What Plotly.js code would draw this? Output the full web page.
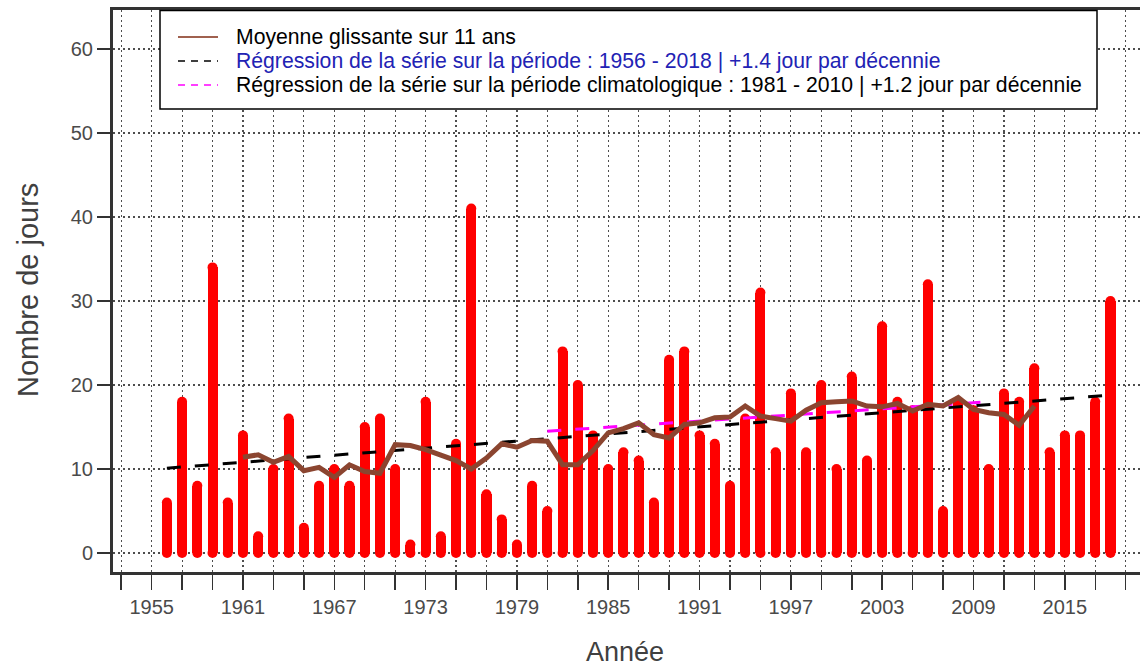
<!DOCTYPE html>
<html>
<head>
<meta charset="utf-8">
<script src="https://cdn.plot.ly/plotly-3.0.1.min.js"></script>
<style>html,body{margin:0;padding:0;background:#fff;}#chart{width:1140px;height:670px;}</style>
</head>
<body>
<div id="chart"></div>
<script>
// ---- Data ----
const years = [1956,1957,1958,1959,1960,1961,1962,1963,1964,1965,1966,1967,1968,1969,1970,
  1971,1972,1973,1974,1975,1976,1977,1978,1979,1980,1981,1982,1983,1984,1985,1986,1987,1988,
  1989,1990,1991,1992,1993,1994,1995,1996,1997,1998,1999,2000,2001,2002,2003,2004,2005,2006,
  2007,2008,2009,2010,2011,2012,2013,2014,2015,2016,2017,2018];
const days = [6,18,8,34,6,14,2,10,16,3,8,10,8,15,16,
  10,1,18,2,13,41,7,4,1,8,5,24,20,14,10,12,11,6,
  23,24,14,13,8,16,31,12,19,12,20,10,21,11,27,18,17,32,
  5,18,17,10,19,18,22,12,14,14,18,30];

const maYears = [1961,1962,1963,1964,1965,1966,1967,1968,1969,1970,1971,1972,1973,1974,1975,
  1976,1977,1978,1979,1980,1981,1982,1983,1984,1985,1986,1987,1988,1989,1990,1991,1992,1993,
  1994,1995,1996,1997,1998,1999,2000,2001,2002,2003,2004,2005,2006,2007,2008,2009,2010,2011,
  2012,2013];
const maValues = [11.4,11.7,10.8,11.5,9.8,10.2,9.0,10.5,9.7,9.5,12.9,12.8,12.3,11.6,11.0,
  10.0,11.3,13.0,12.6,13.4,13.3,10.5,10.5,12.2,14.3,14.8,15.5,14.1,13.7,15.3,15.5,16.1,16.2,
  17.5,16.3,16.0,15.7,17.0,17.9,18.0,18.1,17.5,17.4,17.8,16.9,17.7,17.5,18.5,17.1,16.7,16.5,
  15.2,17.5];

const regAllYears = [1956, 2018];
const regAllValues = [10.1, 18.8];
const regClimYears = [1981, 2010];
const regClimValues = [14.5, 18.0];

const xTickVals = [1955,1961,1967,1973,1979,1985,1991,1997,2003,2009,2015];
const xTickText = ["1955","1961","1967","1973","1979","1985","1991","1997","2003","2009","2015"];
const yTickVals = [0,10,20,30,40,50,60];

const legendLabels = [
  "Moyenne glissante sur 11 ans",
  "Régression de la série sur la période : 1956 - 2018 | +1.4 jour par décennie",
  "Régression de la série sur la période climatologique : 1981 - 2010 | +1.2 jour par décennie"
];

// ---- Styles ----
const FONT = "Liberation Sans, Arial, Helvetica, sans-serif";
const RED = "#FF0000";
const BROWN = "#8B4530";
const AXIS = "#333333";
const GRID = "#4d4d4d";

// plot area geometry in pixels
const W = 1140, H = 670;
const L = 113, R = 0, T = 10, B = 98;
const PW = W - L - R, PH = H - T - B;
const px2x = p => (p - L) / PW;
const px2y = p => (H - B - p) / PH;

const traces = [
  { type: "bar", x: years, y: days, width: 0.66,
    marker: { color: RED, line: { width: 0 } }, hoverinfo: "x+y", showlegend: false },
  // round caps at both ends of each bar (like R's round line ends)
  { type: "scatter", mode: "markers", x: years, y: days,
    marker: { color: RED, size: 10, line: { width: 0 } }, hoverinfo: "skip", showlegend: false },
  { type: "scatter", mode: "markers", x: years, y: days.map(() => 0),
    marker: { color: RED, size: 10, line: { width: 0 } }, hoverinfo: "skip", showlegend: false },
  { type: "scatter", mode: "lines", x: regAllYears, y: regAllValues,
    line: { color: "#000000", width: 3, dash: "14px,14px" }, showlegend: false },
  { type: "scatter", mode: "lines", x: regClimYears, y: regClimValues,
    line: { color: "#FF00FF", width: 3, dash: "14px,14px" }, showlegend: false },
  { type: "scatter", mode: "lines", x: maYears, y: maValues,
    line: { color: BROWN, width: 5 }, showlegend: false }
];

const rows = [37, 61, 85];
const shapes = [
  { type: "rect", xref: "paper", yref: "paper", layer: "above",
    x0: px2x(160), x1: px2x(1097), y0: px2y(109), y1: px2y(10.5),
    line: { color: "#000", width: 1.5 }, fillcolor: "#ffffff" },
  { type: "line", xref: "paper", yref: "paper", layer: "above",
    x0: px2x(178), x1: px2x(218), y0: px2y(rows[0]), y1: px2y(rows[0]),
    line: { color: "#A0614F", width: 2 } },
  { type: "line", xref: "paper", yref: "paper", layer: "above",
    x0: px2x(178), x1: px2x(218), y0: px2y(rows[1]), y1: px2y(rows[1]),
    line: { color: "#000", width: 1.5, dash: "7px,6px" } },
  { type: "line", xref: "paper", yref: "paper", layer: "above",
    x0: px2x(178), x1: px2x(218), y0: px2y(rows[2]), y1: px2y(rows[2]),
    line: { color: "#FF00FF", width: 1.5, dash: "7px,6px" } }
];

const legendColors = ["#000000", "#2222B4", "#000000"];
const annotations = legendLabels.map((t, i) => ({
  xref: "paper", yref: "paper", x: px2x(234), y: px2y(rows[i]),
  xanchor: "left", yanchor: "middle", showarrow: false, text: t,
  font: { family: FONT, size: 21.2, color: legendColors[i] }
}));
annotations.push({
  xref: "paper", yref: "paper", x: px2x(625), y: px2y(652),
  xanchor: "center", yanchor: "middle", showarrow: false, text: "Année",
  font: { family: FONT, size: 27, color: "#404040" }
});
annotations.push({
  xref: "paper", yref: "paper", x: px2x(28), y: px2y(290),
  xanchor: "center", yanchor: "middle", showarrow: false, text: "Nombre de jours",
  textangle: -90, font: { family: FONT, size: 29, color: "#404040" }
});

const layout = {
  width: W, height: H,
  margin: { l: L, r: R, t: T, b: B, pad: 0 },
  paper_bgcolor: "#ffffff", plot_bgcolor: "#ffffff",
  showlegend: false, bargap: 0,
  font: { family: FONT, size: 20, color: "#4a4a4a" },
  xaxis: {
    range: [1952.46, 2019.94], tickmode: "array", tickvals: xTickVals, ticktext: xTickText,
    ticks: "outside", ticklen: 15, tickwidth: 1.5, tickcolor: AXIS,
    showline: true, linewidth: 3, linecolor: AXIS, mirror: true,
    showgrid: true, gridcolor: GRID, gridwidth: 1.2, griddash: "2px,3px",
    zeroline: false,
    tickfont: { family: FONT, size: 20, color: "#4a4a4a" },
    minor: { tickmode: "linear", tick0: 1955, dtick: 2, ticks: "outside", ticklen: 15,
      tickwidth: 1.5, tickcolor: AXIS, showgrid: true, gridcolor: GRID, gridwidth: 1.2,
      griddash: "2px,3px" }
  },
  yaxis: {
    range: [-2.26, 64.64], tickmode: "array", tickvals: yTickVals,
    ticks: "outside", ticklen: 13, tickwidth: 1.5, tickcolor: AXIS,
    showline: true, linewidth: 3, linecolor: AXIS, mirror: false,
    showgrid: true, gridcolor: GRID, gridwidth: 1.2, griddash: "2px,3px",
    zeroline: false,
    tickfont: { family: FONT, size: 20, color: "#4a4a4a" }
  },
  shapes: shapes,
  annotations: annotations
};

Plotly.newPlot("chart", traces, layout, { displayModeBar: false, staticPlot: true });
</script>
</body>
</html>
